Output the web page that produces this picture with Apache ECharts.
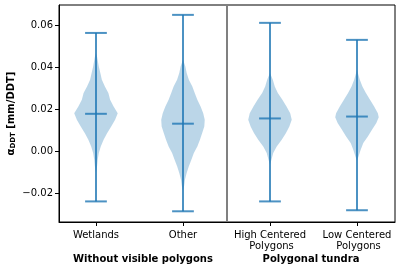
<!DOCTYPE html>
<html><head><meta charset="utf-8">
<script src="https://cdn.jsdelivr.net/npm/echarts@6/dist/echarts.min.js"></script>
<style>html,body{margin:0;padding:0;background:#fff}#c{width:401px;height:279px}</style>
</head><body><div id="c"></div>
<script>
const categories = ['Wetlands', 'Other', 'High Centered\n Polygons', 'Low Centered\n Polygons'];
const groupLabels = ['Without visible polygons', 'Polygonal tundra'];
const yTicks = [-0.02, 0, 0.02, 0.04, 0.06];
const maxVals = [0.0565, 0.0651, 0.0613, 0.0532];
const minVals = [-0.0237, -0.0284, -0.0237, -0.0279];
const meanVals = [0.0180, 0.0133, 0.0158, 0.0167];

const wetlandsLevels = [0.0470, 0.0452, 0.0405, 0.0374, 0.0342, 0.0310, 0.0279, 0.0247, 0.0215, 0.0183, 0.0152, 0.0120, 0.0088, 0.0057, 0.0025, -0.0007, -0.0038, -0.0070, -0.0100];
const wetlandsDensity = [0, 0.05, 0.13, 0.20, 0.27, 0.41, 0.57, 0.65, 0.81, 1.0, 0.88, 0.70, 0.51, 0.35, 0.22, 0.13, 0.08, 0.05, 0];
const otherLevels = [0.0437, 0.0405, 0.0374, 0.0342, 0.0310, 0.0279, 0.0247, 0.0215, 0.0183, 0.0152, 0.0120, 0.0088, 0.0057, 0.0025, -0.0007, -0.0038, -0.0070, -0.0102, -0.0134, -0.0165, -0.0186];
const otherDensity = [0, 0.11, 0.17, 0.27, 0.43, 0.54, 0.66, 0.81, 0.93, 1.0, 0.98, 0.88, 0.78, 0.66, 0.50, 0.39, 0.27, 0.17, 0.09, 0.05, 0];
const highLevels = [0.0374, 0.0342, 0.0310, 0.0279, 0.0247, 0.0215, 0.0183, 0.0152, 0.0120, 0.0088, 0.0057, 0.0025, -0.0007, -0.0038, -0.0062];
const highDensity = [0, 0.13, 0.22, 0.36, 0.57, 0.76, 0.93, 1.0, 0.89, 0.73, 0.54, 0.31, 0.15, 0.07, 0];
const lowLevels = [0.0389, 0.0342, 0.0310, 0.0279, 0.0247, 0.0215, 0.0183, 0.0164, 0.0136, 0.0104, 0.0072, 0.0041, 0.0009, -0.0023, -0.0043];
const lowDensity = [0, 0.13, 0.25, 0.41, 0.60, 0.79, 0.96, 1.0, 0.89, 0.69, 0.50, 0.29, 0.17, 0.07, 0];

const profiles = [
  [wetlandsLevels, wetlandsDensity],
  [otherLevels, otherDensity],
  [highLevels, highDensity],
  [lowLevels, lowDensity]
];
const groupDivider = 2.5;

const FONT = 'DejaVu Sans';
const chart = echarts.init(document.getElementById('c'), null, {renderer: 'canvas'});

function fmtY(v) {
  const s = Math.abs(v) < 1e-9 ? '0.00' : v.toFixed(2);
  return s.replace('-', '\u2212');
}

const positions = categories.map((c, i) => i + 1);

chart.setOption({
  animation: false,
  backgroundColor: '#fff',
  grid: {left: 59, right: 6, top: 5, bottom: 57, containLabel: false, outerBoundsMode: 'none', show: true, borderColor: '#000', borderWidth: 1, backgroundColor: 'transparent'},
  xAxis: [{
    type: 'value', min: 0.575, max: 4.437,
    axisLine: {show: true, onZero: false, lineStyle: {color: '#000', width: 1}},
    axisTick: {show: true, customValues: positions, length: 4, lineStyle: {color: '#000'}},
    axisLabel: {customValues: positions, formatter: v => categories[Math.round(v) - 1], color: '#000', fontFamily: FONT, fontSize: 10, margin: 8, lineHeight: 11},
    splitLine: {show: false}
  }, {
    type: 'category', data: groupLabels, position: 'bottom', offset: 29,
    axisLine: {show: false, onZero: false}, axisTick: {show: false},
    axisLabel: {interval: 0, hideOverlap: false, color: '#000', fontFamily: FONT, fontSize: 10, fontWeight: 'bold', margin: 3},
    splitLine: {show: false}
  }],
  yAxis: {
    type: 'value', min: -0.0335, max: 0.0698,
    axisLine: {show: true, onZero: false, lineStyle: {color: '#000', width: 1}},
    axisTick: {show: true, customValues: yTicks, length: 4, lineStyle: {color: '#000'}},
    axisLabel: {customValues: yTicks, formatter: fmtY, color: '#000', fontFamily: FONT, fontSize: 10, margin: 6},
    splitLine: {show: false},
    name: '{a|\u03b1}{s|DDT}{a| [mm/DDT]}',
    nameLocation: 'middle', nameGap: 42, nameMoveOverlap: false,
    nameTextStyle: {
      rich: {
        a: {fontFamily: FONT, fontSize: 10, fontWeight: 'bold', color: '#000'},
        s: {fontFamily: FONT, fontSize: 7, fontWeight: 'bold', color: '#000', padding: [5, 0, 0, 0]}
      }
    }
  },
  series: [{
    type: 'custom',
    xAxisIndex: 0,
    data: positions.map(p => [p]),
    renderItem: function (params, api) {
      const i = params.dataIndex;
      const pos = positions[i];
      const lv = profiles[i][0], dn = profiles[i][1];
      const right = lv.map((v, k) => api.coord([pos + dn[k] * 0.25, v]));
      const left = lv.map((v, k) => api.coord([pos - dn[k] * 0.25, v])).reverse();
      return {type: 'polygon', shape: {points: right.concat(left)}, style: {fill: 'rgba(31,119,180,0.3)'}};
    },
    markLine: {
      silent: true, symbol: 'none', label: {show: false},
      lineStyle: {color: '#808080', width: 2, type: 'solid'},
      data: [{xAxis: groupDivider}]
    }
  }, {
    type: 'custom',
    xAxisIndex: 0,
    data: positions.map(p => [p]),
    renderItem: function (params, api) {
      const i = params.dataIndex;
      const pos = positions[i];
      const st = {stroke: 'rgba(31,119,180,0.8)', lineWidth: 2};
      const seg = (x1, y1, x2, y2) => {
        const a = api.coord([x1, y1]), b = api.coord([x2, y2]);
        return {type: 'line', shape: {x1: a[0], y1: a[1], x2: b[0], y2: b[1]}, style: st};
      };
      return {type: 'group', children: [
        seg(pos, minVals[i], pos, maxVals[i]),
        seg(pos - 0.125, minVals[i], pos + 0.125, minVals[i]),
        seg(pos - 0.125, maxVals[i], pos + 0.125, maxVals[i]),
        seg(pos - 0.125, meanVals[i], pos + 0.125, meanVals[i])
      ]};
    }
  }]
});
</script>
</body></html>
